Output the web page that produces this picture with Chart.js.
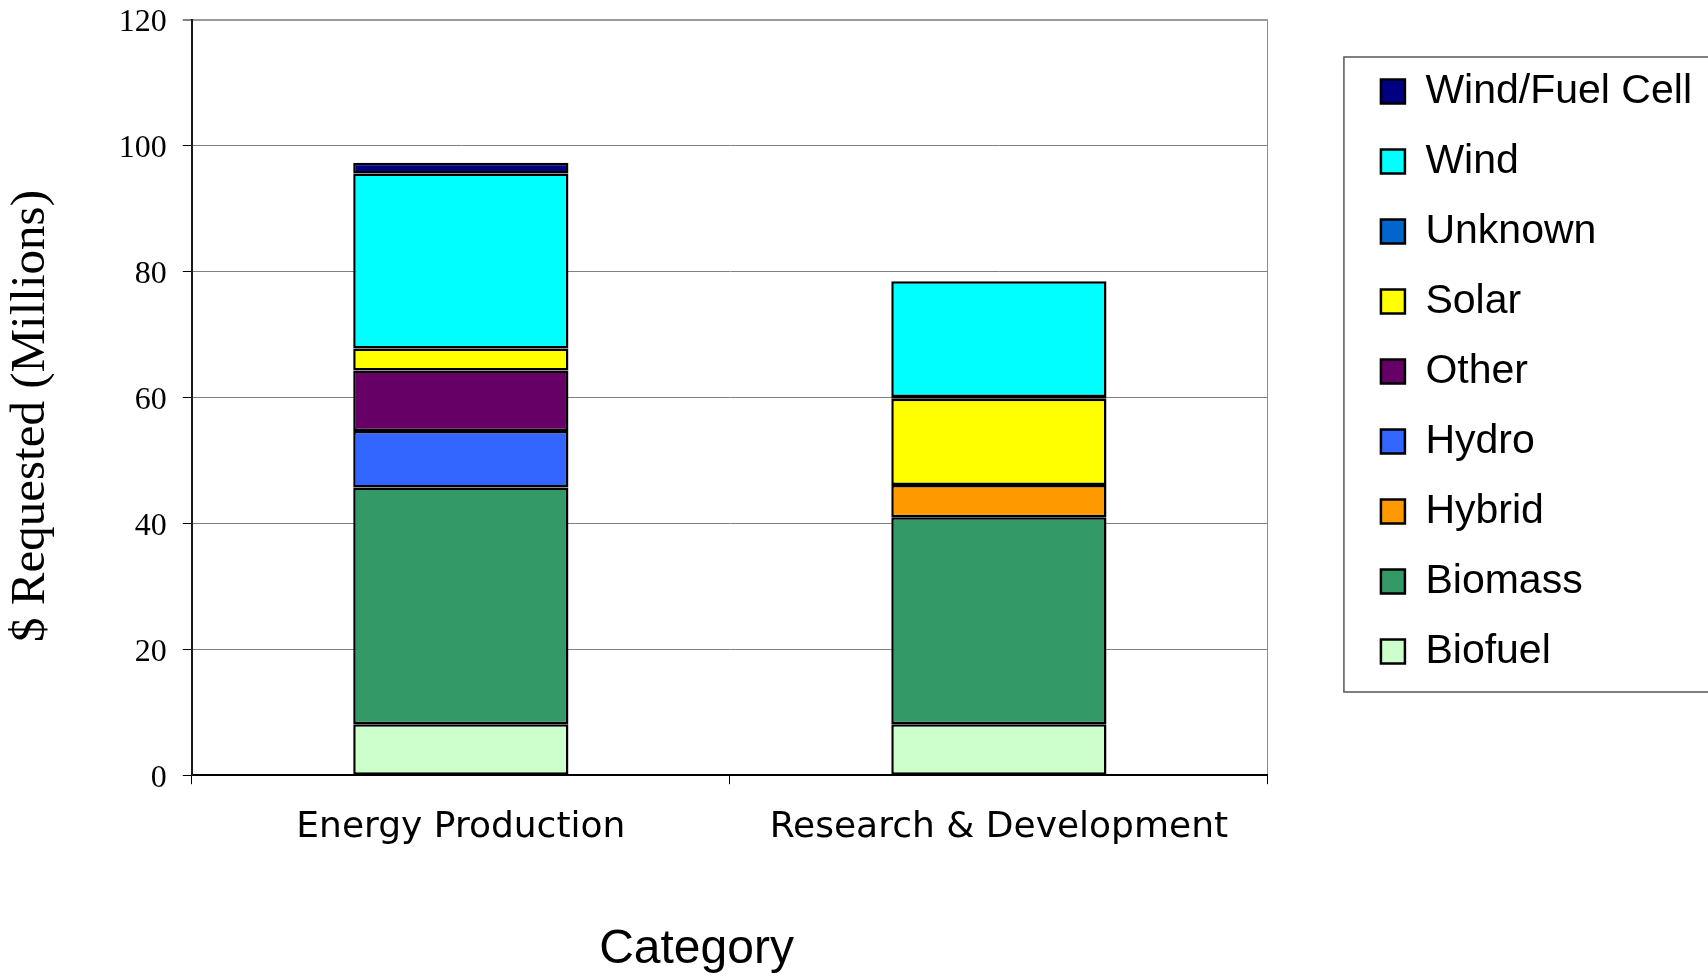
<!DOCTYPE html>
<html>
<head>
<meta charset="utf-8">
<title>$ Requested by Category</title>
<script src="https://cdn.jsdelivr.net/npm/chart.js@4/dist/chart.umd.min.js"></script>
<style>
  html, body { margin: 0; padding: 0; background: #ffffff; }
  #wrap { width: 1708px; height: 979px; position: relative; }
</style>
</head>
<body>
<div id="wrap"><canvas id="chart"></canvas></div>
<script>
// Categories on the x axis
const categories = ['Energy Production', 'Research & Development'];

// $ requested (millions) per technology, one value per category (null = none)
const biofuel      = [8.1, 8.1];
const biomass      = [37.6, 32.9];
const hybrid       = [null, 5.1];
const hydro        = [9.0, null];
const other        = [9.6, null];
const solar        = [3.5, 13.7];
const unknown      = [null, 0.3];
const wind         = [27.8, 18.4];
const windFuelCell = [1.7, null];

// Stack order from the bottom up
const seriesNames  = ['Biofuel', 'Biomass', 'Hybrid', 'Hydro', 'Other', 'Solar', 'Unknown', 'Wind', 'Wind/Fuel Cell'];
const seriesValues = [biofuel, biomass, hybrid, hydro, other, solar, unknown, wind, windFuelCell];
const seriesColors = ['#CCFFCC', '#339966', '#FF9900', '#3366FF', '#660066', '#FFFF00', '#0066CC', '#00FFFF', '#000080'];

// Value axis tick labels
const yTicks = [0, 20, 40, 60, 80, 100, 120];

// Axis titles (trailing spaces nudge the centred text off the plot centre)
const xTitle = 'Category     ';
const yTitle = '$ Requested (Millions)   ';

Chart.defaults.color = '#000000';
Chart.defaults.animation = false;

// Moves the legend column into place and draws the box around it
const legendFrame = {
  id: 'legendFrame',
  afterLayout(chart, args, opts) {
    const lg = chart.legend;
    lg.left += opts.shiftX; lg.right += opts.shiftX;
    lg.top += opts.shiftY; lg.bottom += opts.shiftY;
  },
  afterDraw(chart, args, opts) {
    const lg = chart.legend;
    const lab = lg.options.labels;
    const pad = lab.padding;
    const itemH = Math.max(lab.font.size, lab.boxHeight);
    const n = lg.legendItems.length;
    const x0 = lg.left + pad - opts.insetLeft;
    const y0 = lg.top + pad - opts.insetTop;
    const y1 = lg.top + pad + n * (itemH + pad) - pad + opts.insetBottom;
    const ctx = chart.ctx;
    ctx.save();
    ctx.strokeStyle = '#555555';
    ctx.lineWidth = 1.5;
    ctx.strokeRect(x0, y0, chart.width + 10 - x0, y1 - y0);
    ctx.restore();
  }
};

const datasets = seriesNames.map((name, i) => ({
  label: name,
  data: seriesValues[i],
  backgroundColor: seriesColors[i],
  borderColor: '#000000',
  borderWidth: 2.5,
  borderSkipped: false,
  barPercentage: 0.4,
  categoryPercentage: 1.0
}));

new Chart(document.getElementById('chart'), {
  type: 'bar',
  data: { labels: categories, datasets },
  plugins: [legendFrame],
  options: {
    responsive: true,
    maintainAspectRatio: false,
    layout: { padding: { top: 0, right: 90, bottom: 0, left: 0 } },
    plugins: {
      tooltip: { enabled: false },
      legend: {
        position: 'right',
        align: 'start',
        reverse: true,
        labels: {
          font: { family: 'Liberation Sans', size: 41 },
          color: '#000000',
          boxWidth: 24,
          boxHeight: 24,
          padding: 29
        }
      },
      legendFrame: { shiftX: 84, shiftY: 42, insetLeft: 37, insetTop: 14, insetBottom: 20 }
    },
    scales: {
      x: {
        stacked: true,
        offset: true,
        border: { display: true, color: '#000000', width: 2 },
        grid: {
          offset: true,
          drawOnChartArea: true,
          drawTicks: true,
          tickLength: 9,
          color: (c) => c.index === 1 ? 'rgba(0,0,0,0)' : (c.index === 0 ? '#000000' : '#8c8c8c'),
          lineWidth: (c) => c.index === 2 ? 2 : 1,
          tickColor: '#000000',
          tickWidth: 1
        },
        ticks: {
          font: { family: 'DejaVu Sans', size: 36 },
          color: '#000000',
          padding: 22,
          maxRotation: 0,
          autoSkip: false
        },
        title: {
          display: true,
          text: xTitle,
          font: { family: 'Liberation Sans', size: 48 },
          color: '#000000',
          padding: { top: 50, bottom: 0 }
        }
      },
      y: {
        stacked: true,
        min: yTicks[0],
        max: yTicks[yTicks.length - 1],
        afterBuildTicks: (scale) => { scale.ticks = yTicks.map(v => ({ value: v })); },
        border: { display: true, color: '#1a1a1a', width: 2 },
        grid: {
          drawTicks: true,
          tickLength: 9,
          color: (c) => c.tick && c.tick.value === yTicks[yTicks.length - 1] ? '#9a9a9a' : '#808080',
          lineWidth: (c) => c.tick && c.tick.value === yTicks[yTicks.length - 1] ? 2 : 1,
          tickColor: '#000000',
          tickWidth: 1
        },
        ticks: {
          font: { family: 'Liberation Serif', size: 32, lineHeight: 0.25 },
          color: '#000000',
          padding: 16,
          labelOffset: 3
        },
        title: {
          display: true,
          text: yTitle,
          font: { family: 'Liberation Serif', size: 49 },
          color: '#000000',
          padding: { top: 2, bottom: 42 }
        }
      }
    }
  }
});
</script>
</body>
</html>
